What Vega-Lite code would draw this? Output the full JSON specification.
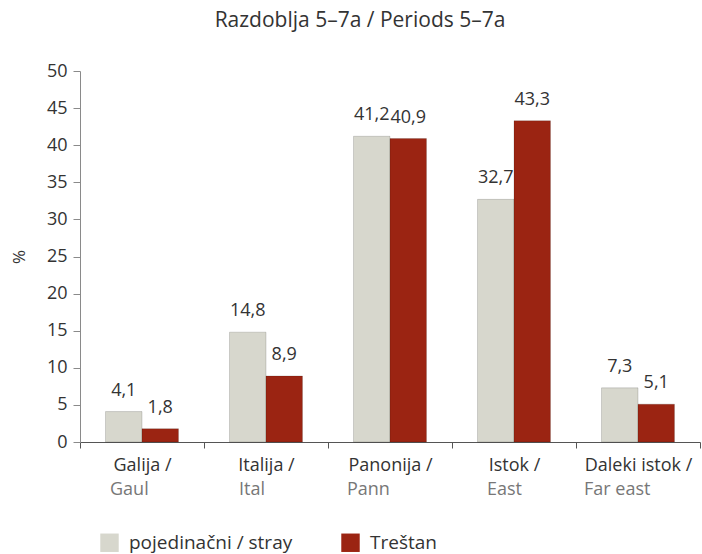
{
  "$schema": "https://vega.github.io/schema/vega-lite/v6.json",
  "width": 620,
  "height": 371,
  "autosize": "none",
  "padding": {"left": 80, "top": 71, "right": 2, "bottom": 112},
  "background": "white",
  "title": {
    "text": "Razdoblja 5–7a / Periods 5–7a",
    "fontSize": 21,
    "fontWeight": "normal",
    "color": "#333333",
    "anchor": "middle",
    "dx": -30,
    "offset": 31
  },
  "data": {
    "values": [
      {"region": "Galija", "type": "pojedinačni / stray", "value": 4.1},
      {"region": "Galija", "type": "Treštan", "value": 1.8},
      {"region": "Italija", "type": "pojedinačni / stray", "value": 14.8},
      {"region": "Italija", "type": "Treštan", "value": 8.9},
      {"region": "Panonija", "type": "pojedinačni / stray", "value": 41.2},
      {"region": "Panonija", "type": "Treštan", "value": 40.9},
      {"region": "Istok", "type": "pojedinačni / stray", "value": 32.7},
      {"region": "Istok", "type": "Treštan", "value": 43.3},
      {"region": "Daleki istok", "type": "pojedinačni / stray", "value": 7.3},
      {"region": "Daleki istok", "type": "Treštan", "value": 5.1}
    ]
  },
  "encoding": {
    "xOffset": {
      "field": "type",
      "sort": ["pojedinačni / stray", "Treštan"],
      "scale": {"paddingInner": 0, "paddingOuter": 0.7}
    },
    "y": {
      "field": "value",
      "type": "quantitative",
      "scale": {"domain": [0, 50], "nice": false},
      "axis": {
        "values": [0, 5, 10, 15, 20, 25, 30, 35, 40, 45, 50],
        "labelOverlap": false,
        "grid": false,
        "domainColor": "#8a8a8a",
        "tickColor": "#8a8a8a",
        "tickSize": 7,
        "labelPadding": 6,
        "labelFontSize": 18,
        "labelColor": "#333333",
        "title": "%",
        "titleFontSize": 17,
        "titleFontWeight": "normal",
        "titleColor": "#333333",
        "titlePadding": 18
      }
    }
  },
  "layer": [
    {
      "mark": {"type": "bar", "stroke": "#000000", "strokeOpacity": 0.15, "strokeWidth": 1},
      "encoding": {
        "x": {
          "field": "region",
          "type": "nominal",
          "sort": ["Galija", "Italija", "Panonija", "Istok", "Daleki istok"],
          "scale": {"paddingInner": 0, "paddingOuter": 0},
          "axis": {
            "title": null,
            "labelAngle": 0,
            "labelExpr": "datum.value ? datum.value + ' /' : ''",
            "labelFontSize": 18,
            "labelColor": "#333333",
            "labelBaseline": "top",
            "labelPadding": 8,
            "tickBand": "extent",
            "tickSize": 6,
            "tickColor": "#555555",
            "domainColor": "#555555"
          }
        },
        "color": {
          "field": "type",
          "type": "nominal",
          "scale": {"domain": ["pojedinačni / stray", "Treštan"], "range": ["#d7d7cd", "#9b2412"]},
          "legend": {
            "orient": "none",
            "legendX": 20,
            "legendY": 462,
            "direction": "horizontal",
            "columns": 2,
            "title": null,
            "symbolType": "square",
            "symbolSize": 340,
            "symbolStrokeWidth": 0,
            "labelFontSize": 19,
            "labelLimit": 400,
            "labelColor": "#333333",
            "labelOffset": 10,
            "columnPadding": 48,
            "padding": 0
          }
        }
      }
    },
    {
      "mark": {"type": "text", "baseline": "alphabetic", "dy": -16, "fontSize": 18, "color": "#333333"},
      "encoding": {
        "x": {
          "field": "region",
          "type": "nominal",
          "sort": ["Galija", "Italija", "Panonija", "Istok", "Daleki istok"],
          "axis": {
            "orient": "bottom",
            "title": null,
            "labelAngle": 0,
            "domain": false,
            "ticks": false,
            "labelExpr": "datum.value == 'Galija' ? 'Gaul' : datum.value == 'Italija' ? 'Ital' : datum.value == 'Panonija' ? 'Pann' : datum.value == 'Istok' ? 'East' : datum.value == 'Daleki istok' ? 'Far east' : ''",
            "labelFontSize": 18,
            "labelColor": "#777777",
            "labelBaseline": "top",
            "labelAlign": "left",
            "labelPadding": 38,
            "labelOffset": {
              "condition": [
                {"test": "datum.value == 'Galija'", "value": -32},
                {"test": "datum.value == 'Italija'", "value": -27},
                {"test": "datum.value == 'Panonija'", "value": -43},
                {"test": "datum.value == 'Istok'", "value": -27}
              ],
              "value": -54
            }
          }
        },
        "text": {"field": "value", "type": "quantitative", "format": ".1f"}
      }
    }
  ],
  "resolve": {"axis": {"x": "independent"}},
  "config": {
    "font": "Open Sans",
    "view": {"stroke": null},
    "locale": {
      "number": {"decimal": ",", "thousands": ".", "grouping": [3], "currency": ["", " €"]}
    }
  }
}
